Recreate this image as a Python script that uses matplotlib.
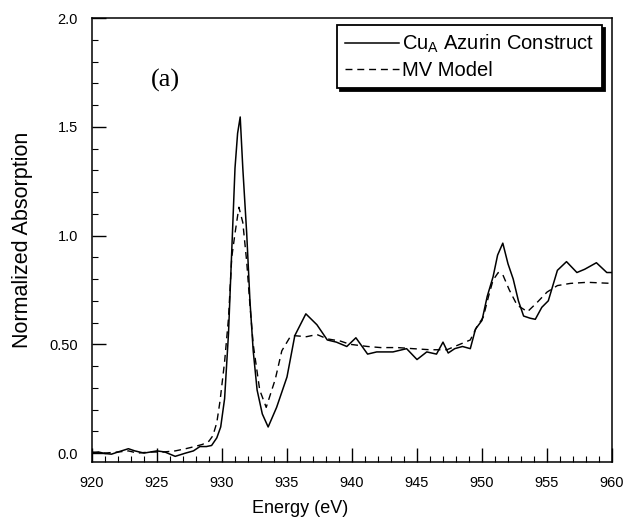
import matplotlib
matplotlib.use("Agg")
import matplotlib.pyplot as plt
from matplotlib.ticker import MultipleLocator, FixedLocator

plt.rcParams['font.family'] = ['Liberation Sans', 'DejaVu Sans']
plt.rcParams['mathtext.fontset'] = 'custom'
plt.rcParams['mathtext.rm'] = 'Liberation Sans'

# Cu_A Azurin Construct (solid)
cua_energy = [920, 920.5, 921, 921.5, 922, 922.8, 923.3, 924, 925, 925.6, 926.4, 927.2,
              927.8, 928.3, 928.8, 929.2, 929.6, 929.9, 930.2, 930.5, 930.75, 931.0,
              931.2, 931.4, 931.6, 931.9, 932.15, 932.4, 932.7, 933.1, 933.55, 934.2,
              935.0, 935.6, 936.45, 937.3, 938.1, 938.8, 939.6, 940.3, 941.2, 941.9,
              943.15, 944.2, 945.0, 945.75, 946.5, 947.0, 947.4, 947.9, 948.5, 949.1,
              949.5, 950.0, 950.4, 950.85, 951.2, 951.6, 952.0, 952.4, 952.8, 953.2,
              953.7, 954.1, 954.6, 955.1, 955.8, 956.5, 957.3, 957.9, 958.8, 959.6, 960]
cua_absorption = [0.0, 0.005, -0.002, -0.005, 0.005, 0.02, 0.01, 0.0, 0.01, 0.005, -0.015, 0.0,
                  0.01, 0.03, 0.03, 0.035, 0.07, 0.12, 0.25, 0.55, 0.93, 1.31,
                  1.47, 1.545, 1.31, 1.01, 0.70, 0.47, 0.29, 0.18, 0.12, 0.21,
                  0.35, 0.54, 0.64, 0.59, 0.52, 0.51, 0.49, 0.53, 0.455, 0.465,
                  0.465, 0.48, 0.43, 0.465, 0.455, 0.51, 0.46, 0.48, 0.49, 0.48,
                  0.57, 0.61, 0.72, 0.81, 0.91, 0.965, 0.87, 0.80, 0.70, 0.63,
                  0.62, 0.615, 0.67, 0.70, 0.84, 0.88, 0.83, 0.845, 0.875, 0.83, 0.83]

# MV Model (dashed)
mv_energy = [920, 921, 922, 922.8, 923.5, 924.5, 925.5, 926.4, 927.2, 927.9, 928.5, 929.0,
             929.3, 929.6, 929.85, 930.2, 930.5, 930.75, 931.0, 931.3, 931.6, 931.9,
             932.15, 932.4, 932.9, 933.4, 934.1, 934.6, 935.2, 935.5, 936.5, 937.3,
             938.1, 939.1, 939.85, 941.2, 942.2, 943.5, 944.7, 946.0, 947.3, 948.3,
             949.1, 949.6, 950.1, 950.5, 950.85, 951.25, 951.6, 952.1, 952.7, 953.5,
             954.2, 955.0, 955.8, 956.8, 958.1, 960]
mv_absorption = [0.005, 0.0, 0.005, 0.01, 0.0, 0.005, 0.005, 0.01, 0.02, 0.03, 0.04, 0.055,
                 0.08, 0.14, 0.24, 0.42, 0.62, 0.9, 1.01, 1.13, 1.06, 0.88,
                 0.68, 0.5, 0.29, 0.21, 0.34, 0.47, 0.53, 0.54, 0.535, 0.545,
                 0.525, 0.515, 0.5, 0.49, 0.485, 0.485, 0.48, 0.475, 0.475, 0.50,
                 0.52, 0.58, 0.625, 0.72, 0.795, 0.83, 0.82, 0.75, 0.68, 0.65,
                 0.69, 0.74, 0.77, 0.78, 0.785, 0.78]

y_ticks = [0.0, 0.5, 1.0, 1.5, 2.0]
y_ticklabels = ["0.0", "0.50", "1.0", "1.5", "2.0"]
x_ticks = [920, 925, 930, 935, 940, 945, 950, 955, 960]

fig = plt.figure(figsize=(6.27, 5.22), dpi=100)
ax = fig.add_axes([92/627, 1-462/522, 520/627, 444/522])

ax.plot(cua_energy, cua_absorption, color='black', lw=1.1, ls='-', label=r'Cu$_\mathregular{A}$ Azurin Construct')
ax.plot(mv_energy, mv_absorption, color='black', lw=1.0, ls=(0, (5, 3.5)), label='MV Model')

ax.set_xlim(920, 960)
ax.set_ylim(-0.041, 2.0)
ax.xaxis.set_major_locator(FixedLocator(x_ticks))
ax.xaxis.set_minor_locator(MultipleLocator(1))
ax.yaxis.set_major_locator(FixedLocator(y_ticks))
ax.set_yticklabels(y_ticklabels)
ax.yaxis.set_minor_locator(MultipleLocator(0.1))
ax.tick_params(which='both', direction='in', top=False, right=False)
ax.tick_params(which='major', length=10, width=1, labelsize=10.5, pad=10)
ax.tick_params(which='minor', length=4, width=0.8)
for s in ax.spines.values():
    s.set_linewidth(1.1)

ax.set_xlabel('Energy (eV)', fontsize=13)
ax.xaxis.set_label_coords(0.4, -0.085)
ax.set_ylabel('Normalized Absorption', fontsize=15.5)
ax.yaxis.set_label_coords(-0.113, 0.5)

ax.text(0.113, 0.86, '(a)', transform=ax.transAxes, fontsize=19,
        family=['Liberation Serif', 'DejaVu Serif'], ha='left', va='center')

leg = ax.legend(loc='upper right', bbox_to_anchor=(0.981, 0.984), borderaxespad=0,
                fontsize=14.5, handlelength=2.7, handletextpad=0.15, labelspacing=0.3,
                borderpad=0.38, fancybox=False, frameon=True,
                shadow={'color': 'black', 'alpha': 1.0})
leg.get_frame().set_edgecolor('black')
leg.get_frame().set_linewidth(1.3)

fig.savefig('out.png', dpi=100)
